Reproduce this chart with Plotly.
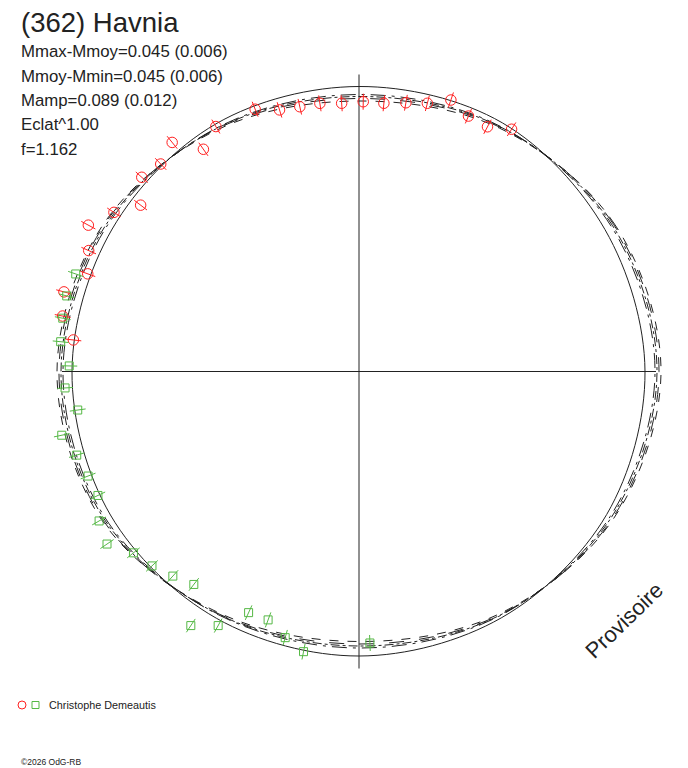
import plotly.graph_objects as go

W, H = 688, 768

TITLE = "(362) Havnia"
STATS = [
    "Mmax-Mmoy=0.045 (0.006)",
    "Mmoy-Mmin=0.045 (0.006)",
    "Mamp=0.089 (0.012)",
    "Eclat^1.00",
    "f=1.162",
]
OBSERVER = "Christophe Demeautis"
COPYRIGHT = "©2026 OdG-RB"
STAMP = "Provisoire"

# session 1 (red circles): angle in degrees, radius
red_theta = [57.8, 62.3, 66.8, 71.3, 75.7, 80.1, 84.7, 89.1, 93.7, 98.3, 102.6,
             106.9, 111.6, 120.3, 125.0, 129.2, 133.7, 138.2, 142.7, 147.0,
             151.6, 155.9, 160.2, 164.9, 169.4, 173.7]
red_r = [286.3, 276.4, 277.9, 286.6, 276.8, 272.8, 269.4, 269.8, 268.8, 271.0,
         271.3, 273.4, 282.1, 283.7, 271.3, 295.6, 287.0, 291.4, 274.5, 292.2,
         307.7, 296.1, 288.3, 305.6, 301.5, 287.4]
red_err = 8

# session 2 (green squares)
green_theta = [161.0, 165.5, 169.8, 174.3, 178.9, 183.2, 187.8, 192.1, 196.5,
               201.1, 205.4, 209.9, 214.4, 218.8, 223.2, 227.7, 232.2, 236.5,
               241.0, 245.4, 249.9, 254.5, 258.8, 272.3]
green_r = [299.6, 301.9, 301.0, 299.8, 289.8, 294.4, 283.9, 304.0, 294.4, 290.4,
           289.0, 299.8, 305.4, 289.4, 284.0, 276.6, 269.5, 304.7, 290.5, 265.2,
           264.5, 276.2, 285.6, 271.7]
green_err = 8

# model curves, sampled every 30 deg
model_theta = [0, 30, 60, 90, 120, 150, 180, 210, 240, 270, 300, 330]
model_solid = [286, 284, 287, 285, 286, 285, 287, 287, 285, 284.5, 284.5, 286]
model_d1 = [302, 295, 281, 270.5, 280, 295, 302, 297, 279, 270, 280, 294]
model_d2 = [300, 294, 282, 273, 281, 294, 300, 296, 280, 272.5, 281, 293]
model_d3 = [298, 292.5, 282.5, 275, 281.5, 292.5, 298, 294.5, 280.5, 274.5, 281.5, 291.5]
model_d4 = [296, 291, 283, 277, 282, 291, 296, 293, 281, 276.5, 282, 290]

axis_r = 297

# layout geometry (pixels)
CX, CY = 359, 371.5
R_PX = 320
R_MAX = 320

INK = "#222222"
RED = "#ff2020"
GREEN = "#55b845"
FONT = "Arial, Liberation Sans, sans-serif"


def px(x):
    return x / W


def py(y):
    return 1 - y / H


def closed(vals):
    return list(vals) + [vals[0]]


def bars(theta, r, e):
    rr, tt = [], []
    for t, v in zip(theta, r):
        rr += [v - e, v + e, None]
        tt += [t, t, None]
    return rr, tt


def label(text, x, y, size, **kw):
    d = dict(text=text, x=px(x), y=py(y), xref="paper", yref="paper",
             xanchor="left", yanchor="middle", showarrow=False,
             font=dict(family=FONT, size=size, color=INK))
    d.update(kw)
    return d


fig = go.Figure()

# cross axes
fig.add_trace(go.Scatterpolar(r=[axis_r, axis_r], theta=[0, 180], mode="lines",
                              line=dict(color=INK, width=1), hoverinfo="skip"))
fig.add_trace(go.Scatterpolar(r=[axis_r, axis_r], theta=[90, 270], mode="lines",
                              line=dict(color=INK, width=1), hoverinfo="skip"))

for vals, dash in [(model_d1, "dash"), (model_d2, "longdash"),
                   (model_d3, "dashdot"), (model_d4, "longdashdot"),
                   (model_solid, "solid")]:
    fig.add_trace(go.Scatterpolar(
        r=closed(vals), theta=closed(model_theta), mode="lines",
        line=dict(color=INK, width=1, dash=dash, shape="spline", smoothing=1),
        hoverinfo="skip"))

er, et = bars(red_theta, red_r, red_err)
fig.add_trace(go.Scatterpolar(r=er, theta=et, mode="lines",
                              line=dict(color=RED, width=1), hoverinfo="skip"))
fig.add_trace(go.Scatterpolar(r=red_r, theta=red_theta, mode="markers",
                              marker=dict(symbol="circle-open", size=10.5, color=RED,
                                          line=dict(width=1, color=RED))))

eg, etg = bars(green_theta, green_r, green_err)
fig.add_trace(go.Scatterpolar(r=eg, theta=etg, mode="lines",
                              line=dict(color=GREEN, width=1), hoverinfo="skip"))
fig.add_trace(go.Scatterpolar(r=green_r, theta=green_theta, mode="markers",
                              marker=dict(symbol="square-open", size=8, color=GREEN,
                                          line=dict(width=1, color=GREEN))))

annotations = [label(TITLE, 19, 22, 27.5)]
for i, s in enumerate(STATS):
    annotations.append(label(s, 19, 51.5 + 24.5 * i, 16.8))
annotations.append(label(STAMP, 624, 620, 22, textangle=-44, xanchor="center"))
annotations.append(label(OBSERVER, 47, 705, 10.8))
annotations.append(label(COPYRIGHT, 19, 762, 8.5))

shapes = [
    dict(type="circle", xref="paper", yref="paper", x0=px(18), x1=px(26),
         y0=py(709), y1=py(701), line=dict(color=RED, width=1)),
    dict(type="rect", xref="paper", yref="paper", x0=px(32), x1=px(39),
         y0=py(708.5), y1=py(701.5), line=dict(color=GREEN, width=1)),
]

fig.update_layout(
    width=W, height=H, margin=dict(l=0, r=0, t=0, b=0),
    paper_bgcolor="white", plot_bgcolor="white", showlegend=False,
    polar=dict(
        domain=dict(x=[px(CX - R_PX), px(CX + R_PX)],
                    y=[py(CY + R_PX), py(CY - R_PX)]),
        bgcolor="white",
        radialaxis=dict(range=[0, R_MAX], visible=False),
        angularaxis=dict(visible=False),
    ),
    annotations=annotations, shapes=shapes,
)

fig.write_html("out.html", config={"displayModeBar": False},
               post_script="document.body.style.margin='0';")
